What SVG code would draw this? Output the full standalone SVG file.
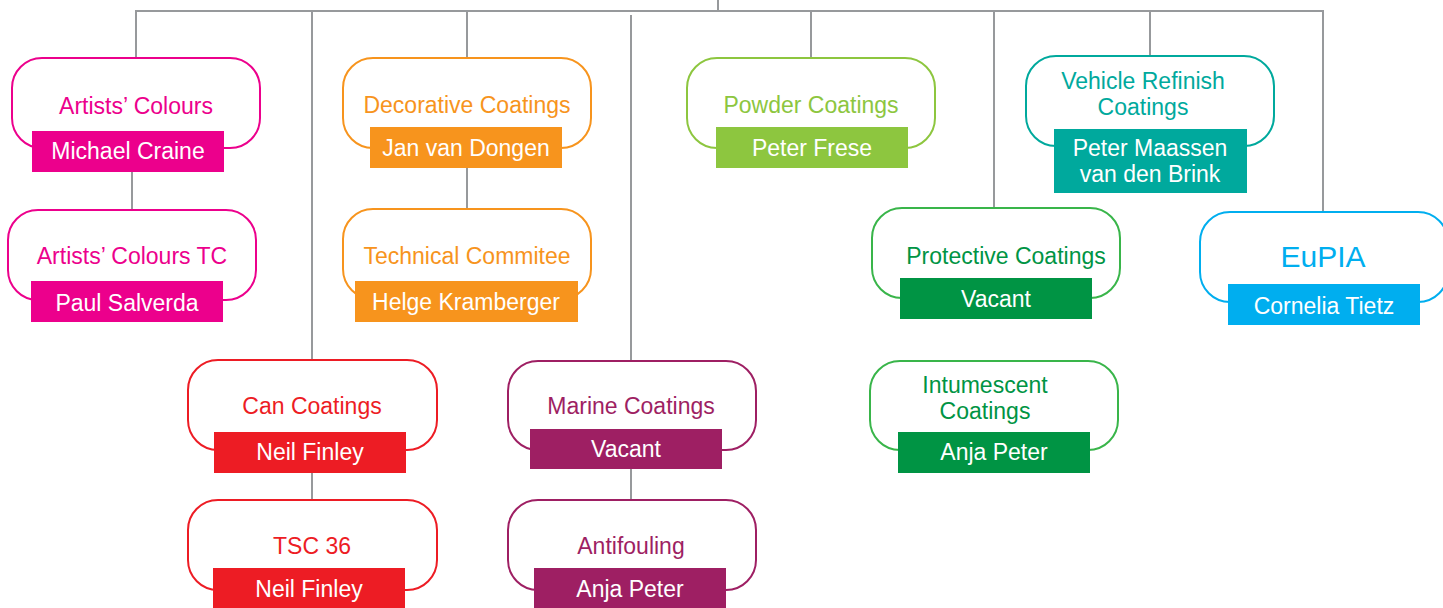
<svg xmlns="http://www.w3.org/2000/svg" width="1443" height="608" viewBox="0 0 1443 608">
<style>
  .conn line, .conn path { stroke: #97999c; stroke-width: 2; fill: none; }
  .box { fill: #ffffff; stroke-width: 2; }
  .t { font-family: "Liberation Sans", Arial, sans-serif; font-size: 23px; text-anchor: middle; }
  .n { font-family: "Liberation Sans", Arial, sans-serif; font-size: 23px; text-anchor: middle; fill: #ffffff; }
  .pink .box { stroke: #ec008c; } .pink .t { fill: #ec008c; } .pink rect.lab { fill: #ec008c; }
  .orange .box { stroke: #f7941d; } .orange .t { fill: #f7941d; } .orange rect.lab { fill: #f7941d; }
  .lime .box { stroke: #8dc63f; } .lime .t { fill: #8dc63f; } .lime rect.lab { fill: #8dc63f; }
  .teal .box { stroke: #00a99d; } .teal .t { fill: #00a99d; } .teal rect.lab { fill: #00a99d; }
  .green .box { stroke: #39b54a; } .green .t { fill: #009444; } .green rect.lab { fill: #009444; }
  .cyan .box { stroke: #00aeef; } .cyan .t { fill: #00aeef; } .cyan rect.lab { fill: #00aeef; }
  .red .box { stroke: #ed1c24; } .red .t { fill: #ed1c24; } .red rect.lab { fill: #ed1c24; }
  .purple .box { stroke: #9e1f63; } .purple .t { fill: #9e1f63; } .purple rect.lab { fill: #9e1f63; }
</style>
<g id="connectors" class="conn">
  <line x1="718" y1="0" x2="718" y2="11"/>
  <path d="M136 58 V11 H1323 V212"/>
  <line x1="312" y1="11" x2="312" y2="360"/>
  <line x1="467" y1="11" x2="467" y2="58"/>
  <line x1="631" y1="15" x2="631" y2="361"/>
  <line x1="811" y1="11" x2="811" y2="58"/>
  <line x1="994" y1="11" x2="994" y2="208"/>
  <line x1="1150" y1="11" x2="1150" y2="56"/>
  <line x1="132" y1="172" x2="132" y2="210"/>
  <line x1="467" y1="168" x2="467" y2="209"/>
  <line x1="312" y1="473" x2="312" y2="500"/>
  <line x1="631" y1="469" x2="631" y2="500"/>
</g>

<g id="artists-colours" class="pink">
  <rect class="box" x="12" y="58" width="248" height="90" rx="30"/>
  <text class="t" x="136" y="114">Artists’ Colours</text>
  <rect class="lab" x="32" y="131" width="192" height="41"/>
  <text class="n" x="128" y="159">Michael Craine</text>
</g>
<g id="artists-colours-tc" class="pink">
  <rect class="box" x="8" y="210" width="248" height="90" rx="30"/>
  <text class="t" x="132" y="264">Artists’ Colours TC</text>
  <rect class="lab" x="31" y="281" width="192" height="41"/>
  <text class="n" x="127" y="311">Paul Salverda</text>
</g>
<g id="decorative-coatings" class="orange">
  <rect class="box" x="343" y="58" width="248" height="90" rx="30"/>
  <text class="t" x="467" y="113">Decorative Coatings</text>
  <rect class="lab" x="370" y="127" width="192" height="41"/>
  <text class="n" x="466" y="156">Jan van Dongen</text>
</g>
<g id="technical-commitee" class="orange">
  <rect class="box" x="343" y="209" width="248" height="90" rx="30"/>
  <text class="t" x="467" y="264">Technical Commitee</text>
  <rect class="lab" x="355" y="281" width="223" height="41"/>
  <text class="n" x="466" y="310">Helge Kramberger</text>
</g>
<g id="powder-coatings" class="lime">
  <rect class="box" x="687" y="58" width="248" height="90" rx="30"/>
  <text class="t" x="811" y="113">Powder Coatings</text>
  <rect class="lab" x="716" y="127" width="192" height="41"/>
  <text class="n" x="812" y="156">Peter Frese</text>
</g>
<g id="vehicle-refinish" class="teal">
  <rect class="box" x="1026" y="56" width="248" height="90" rx="30"/>
  <text class="t" x="1143" y="89">Vehicle Refinish</text>
  <text class="t" x="1143" y="115">Coatings</text>
  <rect class="lab" x="1054" y="129" width="193" height="64"/>
  <text class="n" x="1150" y="156">Peter Maassen</text>
  <text class="n" x="1150" y="182">van den Brink</text>
</g>
<g id="protective-coatings" class="green">
  <rect class="box" x="872" y="208" width="248" height="90" rx="30"/>
  <text class="t" x="1006" y="264">Protective Coatings</text>
  <rect class="lab" x="900" y="278" width="192" height="41"/>
  <text class="n" x="996" y="307">Vacant</text>
</g>
<g id="intumescent-coatings" class="green">
  <rect class="box" x="870" y="361" width="248" height="89" rx="30"/>
  <text class="t" x="985" y="393">Intumescent</text>
  <text class="t" x="985" y="419">Coatings</text>
  <rect class="lab" x="898" y="432" width="192" height="41"/>
  <text class="n" x="994" y="460">Anja Peter</text>
</g>
<g id="eupia" class="cyan">
  <rect class="box" x="1200" y="212" width="248" height="90" rx="30"/>
  <text class="t" x="1323" y="267" style="font-size:30px">EuPIA</text>
  <rect class="lab" x="1228" y="284" width="192" height="41"/>
  <text class="n" x="1324" y="314">Cornelia Tietz</text>
</g>
<g id="can-coatings" class="red">
  <rect class="box" x="188" y="360" width="249" height="90" rx="30"/>
  <text class="t" x="312" y="414">Can Coatings</text>
  <rect class="lab" x="214" y="432" width="192" height="41"/>
  <text class="n" x="310" y="460">Neil Finley</text>
</g>
<g id="tsc-36" class="red">
  <rect class="box" x="188" y="500" width="249" height="90" rx="30"/>
  <text class="t" x="312" y="554">TSC 36</text>
  <rect class="lab" x="213" y="568" width="192" height="41"/>
  <text class="n" x="309" y="597">Neil Finley</text>
</g>
<g id="marine-coatings" class="purple">
  <rect class="box" x="508" y="361" width="248" height="89" rx="30"/>
  <text class="t" x="631" y="414">Marine Coatings</text>
  <rect class="lab" x="530" y="429" width="192" height="40"/>
  <text class="n" x="626" y="457">Vacant</text>
</g>
<g id="antifouling" class="purple">
  <rect class="box" x="508" y="500" width="248" height="90" rx="30"/>
  <text class="t" x="631" y="554">Antifouling</text>
  <rect class="lab" x="534" y="568" width="192" height="41"/>
  <text class="n" x="630" y="597">Anja Peter</text>
</g>
</svg>
